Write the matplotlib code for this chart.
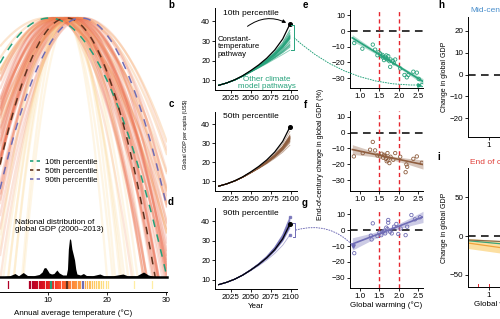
import numpy as np
import matplotlib.pyplot as plt
from matplotlib.lines import Line2D
from matplotlib.patches import ConnectionPatch
from matplotlib.colors import LinearSegmentedColormap

plt.rcParams['font.family'] = ['Liberation Sans', 'DejaVu Sans']
plt.rcParams['axes.linewidth'] = 0.7
plt.rcParams['xtick.major.width'] = 0.6
plt.rcParams['ytick.major.width'] = 0.6
plt.rcParams['xtick.major.size'] = 2
plt.rcParams['ytick.major.size'] = 2
plt.rcParams['xtick.major.pad'] = 1.5
plt.rcParams['ytick.major.pad'] = 1.5
plt.rcParams['xtick.labelsize'] = 5.8
plt.rcParams['ytick.labelsize'] = 5.8

# ---- data -------------------------------------------------------------
# panel a: bootstrapped temperature response curves (optimum T, curvature)
fan_opt = [9.8, 12.5, 10.4, 14.8, 11.2, 13.6, 15.9, 10.9, 12.8, 14.2, 11.6, 15.3,
           13.1, 10.6, 14.6, 12.2, 16.1, 11.9, 13.9, 15.0, 12.6, 10.8, 14.4, 13.3,
           11.4, 15.6, 12.9, 14.0, 11.8, 13.5, 12.3, 14.9, 13.0, 11.5, 14.3, 12.7,
           13.8, 12.1, 13.4, 12.9, 13.2, 12.6, 13.6, 12.8,
           12.0, 13.7, 11.0, 14.5, 12.4, 13.2, 11.7, 14.1, 12.9, 10.9, 15.1, 13.0,
           14.9, 12.6, 11.3, 13.8, 12.2, 15.4, 11.9, 13.5]
fan_curv = [0.45, 0.5, 0.55, 0.58, 0.6, 0.62, 0.65, 0.68, 0.7, 0.72, 0.75, 0.78,
            0.8, 0.82, 0.85, 0.88, 0.9, 0.92, 0.95, 0.98, 1.0, 1.02, 1.05, 1.08,
            1.1, 1.12, 1.15, 1.2, 1.25, 1.3, 1.35, 1.4, 1.5, 1.6, 1.7, 1.85,
            2.0, 2.2, 2.5, 2.8, 3.2, 3.7, 4.3, 5.0,
            0.62, 0.7, 0.74, 0.77, 0.83, 0.86, 0.93, 0.97, 1.03, 1.07, 1.13, 1.18,
            0.66, 0.79, 0.91, 1.01, 1.22, 0.57, 0.52, 0.87]
pct_labels = ['10th percentile', '50th percentile', '90th percentile']
pct_opt = [10.2, 13.15, 15.65]
pct_curv = [0.65, 1.15, 0.9]
pct_colors = ['#23a07a', '#5e321e', '#6f6cb5']
panel_colors = ['#27a37c', '#8f5e3f', '#6f6cb5']

# national distribution of global GDP (temperature, relative density)
dens_T = [1.9, 3.5, 4.4, 5.0, 5.8, 6.5, 7.5, 8.5, 9.0, 9.3, 9.6, 9.9, 10.2, 10.6,
          11.0, 11.5, 11.9, 12.5, 13.1, 13.3, 13.45, 13.65, 13.85, 14.05, 14.3, 14.5,
          14.7, 14.9, 15.5, 16.0, 16.5, 17.5, 18.8, 19.5, 21.0, 22.7, 23.5, 25.0,
          26.2, 27.0, 28.0, 30.1]
dens_h = [0, 1.2, 3.5, 1.2, 4.5, 1.5, 1.2, 2.5, 5, 9, 9.5, 7, 4, 3,
          3.5, 7, 4, 2, 2, 8, 28, 38.5, 37, 28, 22, 17,
          8, 3, 2, 3.5, 1.5, 1.2, 3, 1.2, 1.2, 3, 1.2, 1.2,
          5, 2, 0.5, 0]

# country temperatures shown in the colour strip
strip_T = [3.3, 6.7, 6.95, 7.2, 7.45, 7.6, 7.8, 8.0, 8.2, 8.4, 8.6, 8.8, 9.0, 9.2,
           9.4, 9.6, 9.8, 10.0, 10.2, 10.7, 10.9, 11.1, 11.3, 11.5, 11.7, 11.9,
           12.1, 12.3, 12.5, 12.7, 12.9, 13.4, 13.6, 13.8, 14.0, 14.2, 14.4, 14.6,
           14.8, 15.0, 15.2, 15.4, 16.3, 16.6, 16.9, 17.2, 17.5, 17.8, 18.1, 18.4,
           18.7, 19.0, 19.4, 19.8, 20.2, 24.6, 27.7]
strip_pct_T = [10.5, 13.2, 16.0]

# panels b-d: constant-temperature GDP pathway
years = [2010, 2020, 2030, 2040, 2050, 2060, 2070, 2080, 2090, 2099]
gdp_const = [7.4, 8.6, 10.2, 12.3, 14.9, 17.8, 21.2, 25.4, 31.0, 38.6]
damage_ramp = [0, 0.01, 0.04, 0.09, 0.16, 0.26, 0.38, 0.53, 0.74, 1.0]

# panels e-g: end-of-century change (%) vs global warming (C)
e_warm = [0.85, 1.06, 1.33, 1.39, 1.45, 1.48, 1.52, 1.56, 1.58, 1.60, 1.62, 1.65,
          1.67, 1.68, 1.71, 1.73, 1.76, 1.78, 1.79, 1.85, 1.88, 1.91, 2.04, 2.15,
          2.21, 2.25, 2.38, 2.47, 2.52, 2.60]
e_chg = [-7.6, -11.2, -8.6, -11.8, -15.4, -13.5, -14.3, -16.0, -15.2, -16.9, -18.5,
         -16.4, -17.5, -15.5, -18.1, -16.0, -19.2, -22.8, -18.1, -19.0, -20.5, -18.1,
         -23.8, -28.0, -29.5, -28.0, -25.9, -26.5, -30.5, -34.4]
f_warm = [0.84, 1.07, 1.26, 1.33, 1.39, 1.45, 1.52, 1.56, 1.60, 1.62, 1.65, 1.67,
          1.69, 1.71, 1.73, 1.76, 1.79, 1.86, 1.91, 2.04, 2.18, 2.20, 2.22, 2.38,
          2.47, 2.60]
f_chg = [-15.0, -12.9, -10.8, -5.9, -11.2, -14.4, -15.0, -13.3, -15.8, -14.0, -14.8,
         -16.5, -18.0, -12.9, -17.5, -19.2, -15.2, -17.1, -12.9, -15.2, -24.9, -20.0,
         -21.5, -16.5, -15.0, -19.0]
g_warm = [0.85, 1.28, 1.30, 1.33, 1.45, 1.50, 1.55, 1.59, 1.62, 1.65, 1.68, 1.71,
          1.73, 1.73, 1.78, 1.82, 1.88, 1.94, 1.99, 2.05, 2.18, 2.22, 2.33, 2.42,
          2.55]
g_chg = [-14.5, -3.5, -5.9, 4.2, -3.8, -1.7, -3.2, -1.1, -0.5, -2.1, 1.5, 0.6,
         6.3, 4.6, -1.1, -2.1, 2.1, 3.8, -2.5, 1.0, -3.2, 2.1, 9.4, 6.7, 8.0]

# panel i: end-of-century lines near zero
i_warm = [0.5, 1.3]
i_lines = {'#f2a23a': [-9, -15], '#3aa37a': [-6, -10], '#8a6a4a': [-5, -7]}
i_band_lo = [-16, -22]
i_band_hi = [-3, -6]

# ---- layout helpers ---------------------------------------------------
W, H = 500, 319
fig = plt.figure(figsize=(W / 100, H / 100), dpi=100)


def box(x0, y0, x1, y1):
    return [x0 / W, 1 - y1 / H, (x1 - x0) / W, (y1 - y0) / H]


def ftext(x, y, s, **kw):
    fig.text(x / W, 1 - y / H, s, **kw)


def clean(ax):
    ax.spines['top'].set_visible(False)
    ax.spines['right'].set_visible(False)
    ax.patch.set_visible(False)


# ---- panel a ----------------------------------------------------------
fan_cmap = LinearSegmentedColormap.from_list(
    'fan', ['#fde6a8', '#f9bb6a', '#f28a4e', '#e9573f'])
strip_cmap = plt.get_cmap('YlOrRd')
xl_a = (1.86, 30.17)
ax_a = fig.add_axes(box(0, 15, 167, 277))
ax_a.set_xlim(*xl_a)
ax_a.set_ylim(-259, 3)
ax_a.axis('off')
TT = np.linspace(xl_a[0], xl_a[1], 300)
for c, k in zip(fan_opt, fan_curv):
    if k > 1.8:
        col, al = fan_cmap(0.1), 0.25
    elif k < 0.62:
        col, al = fan_cmap(0.45), 0.3
    else:
        col, al = fan_cmap(1.0 - 0.6 * abs(np.log(k))), 0.2
    ax_a.plot(TT, -k * (TT - c) ** 2, color=col, lw=1.6, alpha=al,
              solid_capstyle='butt')
for c, k, col in zip(pct_opt, pct_curv, pct_colors):
    ax_a.plot(TT, -k * (TT - c) ** 2, color=col, lw=1.1, dashes=(5, 5))

ax_dn = fig.add_axes(box(0, 232, 167, 277))
ax_dn.set_xlim(*xl_a)
ax_dn.set_ylim(0, 45)
ax_dn.axis('off')
ax_dn.fill_between(dens_T, 0, dens_h, color='black', lw=0)
ax_dn.axhline(0, color='black', lw=1.8, clip_on=False)

ax_s = fig.add_axes(box(0, 281, 167, 289))
ax_s.set_xlim(*xl_a)
ax_s.set_ylim(0, 1)
for t in strip_T:
    v = np.clip(0.9 - (t - 7) * 0.055, 0.12, 0.9)
    ax_s.axvline(t, color=strip_cmap(v), lw=0.9)
for t, col in zip(strip_pct_T, pct_colors):
    ax_s.axvline(t, color=col, lw=1.6)
for s in ['top', 'right', 'left']:
    ax_s.spines[s].set_visible(False)
ax_s.spines['bottom'].set_position(('outward', 2.2))
ax_s.set_yticks([])
ax_s.set_xticks([10, 20, 30])
ax_s.patch.set_visible(False)
ftext(73, 313, 'Annual average temperature (°C)', fontsize=5.8, ha='center', va='center')

handles = [Line2D([], [], color=col, lw=1.2, dashes=(2, 2)) for col in pct_colors]
fig.legend(handles, pct_labels, loc='upper left', bbox_to_anchor=(30 / W, 1 - 158 / H),
           frameon=False, fontsize=5.8, handlelength=1.4, handletextpad=0.5,
           labelspacing=0.2, borderaxespad=0, borderpad=0)
ftext(15, 226, 'National distribution of\nglobal GDP (2000–2013)', fontsize=5.8,
      ha='left', va='center', linespacing=1.15)

# ---- panels b-d -------------------------------------------------------
yr = np.array(years)
base = np.array(gdp_const)
ramp = np.array(damage_ramp)
gdp_boxes = [(8.3, 90), (111.7, 190.7), (208.3, 289.3)]
gdp_titles = ['10th percentile', '50th percentile', '90th percentile']
gdp_chg = [e_chg, f_chg, g_chg]
gdp_axes = []
for (y0, y1), title, chg, col in zip(gdp_boxes, gdp_titles, gdp_chg, panel_colors):
    ax = fig.add_axes(box(215, y0, 297, y1))
    clean(ax)
    ax.set_xlim(2005.4, 2107.9)
    ax.set_ylim(5, 46.7)
    ax.set_xticks([2025, 2050, 2075, 2100])
    ax.set_yticks([10, 20, 30, 40])
    for p in chg:
        ax.plot(yr, base * (1 + p / 100 * ramp), color=col, lw=0.6, alpha=0.55)
    ax.plot(yr, base, color='black', lw=0.9)
    ax.plot(yr[-1], base[-1], 'o', color='black', ms=2.6)
    ftext(223, y0 + 5, title, fontsize=6, ha='left', va='center')
    gdp_axes.append(ax)
ax_b, ax_c, ax_d = gdp_axes
ax_d.set_xlabel('Year', fontsize=5.8, labelpad=1)

# range brackets at end of century
b_lo = base[-1] * (1 + min(e_chg) / 100)
b_hi = base[-1] * (1 + max(e_chg) / 100) + 2.5
ax_b.plot([2100, 2104, 2104, 2100], [b_hi, b_hi, b_lo, b_lo], color=panel_colors[0], lw=0.7)
d_lo = base[-1] * (1 + min(g_chg) / 100)
d_hi = base[-1] * (1 + max(g_chg) / 100)
ax_d.plot([2099, 2099], [d_lo, d_hi], 's', color=panel_colors[2], ms=2, alpha=0.8)
ax_d.plot([2103, 2106, 2106, 2103], [39, 39, 31.7, 31.7], color=panel_colors[2], lw=0.7)

ftext(218, 47, 'Constant-\ntemperature\npathway', fontsize=5.6, ha='left', va='center',
      linespacing=1.1)
ax_b.annotate('', xy=(2096, base[-1] + 0.4), xycoords='data',
              xytext=(2046, 37.5), textcoords='data',
              arrowprops=dict(arrowstyle='-|>', color='black', lw=0.7,
                              mutation_scale=5, shrinkA=0, shrinkB=1,
                              connectionstyle='arc3,rad=-0.3'))
ftext(267, 83, 'Other climate\nmodel pathways', fontsize=5.8, ha='center', va='center',
      color=panel_colors[0], linespacing=1.1)
ftext(185, 134, 'Global GDP per capita (US\\$)', fontsize=3.9, rotation=90,
      ha='center', va='center')

# ---- panels e-g -------------------------------------------------------
warm_boxes = [(10, 88.3), (111, 190.7), (208.5, 288.3)]
warm_data = [(e_warm, e_chg), (f_warm, f_chg), (g_warm, g_chg)]
warm_axes = []
for (y0, y1), (wx, wy), col in zip(warm_boxes, warm_data, panel_colors):
    ax = fig.add_axes(box(350, y0, 423, y1))
    clean(ax)
    ax.set_xlim(0.74, 2.63)
    ax.set_ylim(-36.5, 13.5)
    ax.set_xticks([1.0, 1.5, 2.0, 2.5])
    ax.set_yticks([10, 0, -10, -20, -30])
    ax.axhline(0, color='black', lw=1.1, dashes=(5, 3.5), zorder=1)
    for v in (1.5, 2.0):
        ax.axvline(v, color='#e5262e', lw=1.0, dashes=(3, 2.2), zorder=1)
    wx = np.array(wx)
    wy = np.array(wy)
    slope, icpt = np.polyfit(wx, wy, 1)
    xx = np.linspace(0.8, 2.63, 60)
    fit = icpt + slope * xx
    resid = wy - (icpt + slope * wx)
    s = np.sqrt(np.sum(resid ** 2) / (len(wx) - 2))
    se = s * np.sqrt(1 / len(wx) + (xx - wx.mean()) ** 2 / np.sum((wx - wx.mean()) ** 2))
    ax.fill_between(xx, fit - 2 * se, fit + 2 * se, color=col, alpha=0.35, lw=0, zorder=2)
    ax.plot(xx, fit, color=col, lw=1.2, zorder=3)
    ax.scatter(wx, wy, s=6, facecolors='none', edgecolors=col, lw=0.6, zorder=4)
    warm_axes.append(ax)
ax_e, ax_f, ax_g = warm_axes
ax_g.set_xlabel('Global warming (°C)', fontsize=5.8, labelpad=1)
ftext(321, 154, 'End-of-century change in global GDP (%)', fontsize=5.1, rotation=90,
      ha='center', va='center')

# dotted links from pathway ranges to scatter points
con_e = ConnectionPatch(xyA=(2104.5, 31.6), coordsA=ax_b.transData,
                        xyB=(2.52, e_chg[-1]), coordsB=ax_e.transData,
                        color=panel_colors[0], lw=0.7, linestyle=':',
                        connectionstyle='arc3,rad=0.2')
fig.add_artist(con_e)
ax_e.plot(2.52, e_chg[-1], '>', color=panel_colors[0], ms=2.5, zorder=5)
con_g = ConnectionPatch(xyA=(2106.5, 35.5), coordsA=ax_d.transData,
                        xyB=(g_warm[0] - 0.02, -10), coordsB=ax_g.transData,
                        color=panel_colors[2], lw=0.7, linestyle=':',
                        connectionstyle='arc3,rad=-0.3')
fig.add_artist(con_g)
ax_g.plot(g_warm[0] - 0.02, -10, 'v', color=panel_colors[2], ms=2.5, zorder=5)

# ---- panels h, i (cut at the right edge) ------------------------------
ax_h = fig.add_axes(box(468.3, 16.7, 551, 136.7))
clean(ax_h)
ax_h.set_xlim(0.5, 2.5)
ax_h.set_ylim(-28.4, 26.4)
ax_h.set_xticks([1.0])
ax_h.set_yticks([20, 10, 0, -10, -20])
ax_h.axhline(0, color='black', lw=1.1, dashes=(5, 3.5))
ax_h.set_ylabel('Change in global GDP', fontsize=5.0, labelpad=1.5)
ftext(470, 10, 'Mid-century', fontsize=6, color='#4a8fcc', ha='left', va='center')

ax_i = fig.add_axes(box(468.3, 168.3, 551, 287.3))
clean(ax_i)
ax_i.set_xlim(0.5, 2.5)
ax_i.set_ylim(-65.8, 87)
ax_i.set_xticks([1.0])
ax_i.set_yticks([50, 0, -50])
ax_i.fill_between(i_warm, i_band_lo, i_band_hi, color='#fbd27a', alpha=0.7, lw=0)
for col, vals in i_lines.items():
    ax_i.plot(i_warm, vals, color=col, lw=0.9)
ax_i.axhline(0, color='black', lw=1.1, dashes=(5, 3.5))
for v in (0.73, 1.0):
    ax_i.plot([v, v], [-65.8, -62], color='#e5262e', lw=0.7)
ax_i.set_ylabel('Change in global GDP', fontsize=5.0, labelpad=1.5)
ax_i.set_xlabel('Global warming (°C)', fontsize=5.8, labelpad=1)
ftext(470, 162, 'End of century', fontsize=6, color='#e0403a', ha='left', va='center')

# panel letters
for lab, x, y in [('b', 171, 5), ('c', 171, 104), ('d', 171, 202), ('e', 305, 5),
                  ('f', 305, 105), ('g', 305, 203), ('h', 441, 5), ('i', 439, 157)]:
    ftext(x, y, lab, fontsize=7, fontweight='bold', ha='center', va='center')

fig.savefig('out.png', dpi=100)
